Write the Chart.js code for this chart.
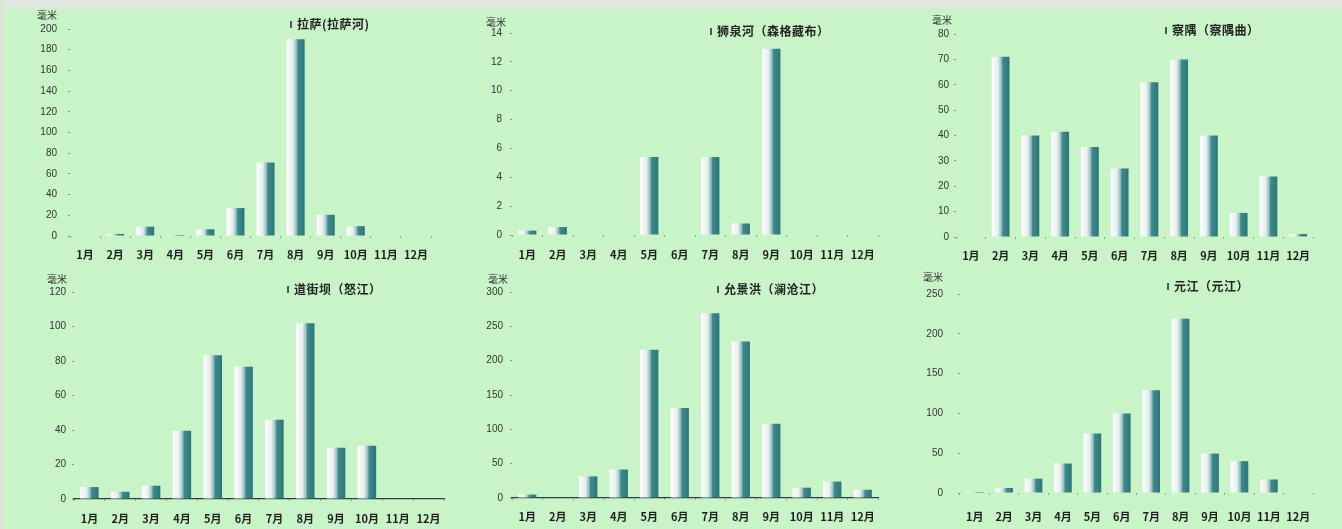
<!DOCTYPE html>
<html lang="zh">
<head>
    <meta charset="UTF-8">
    <title>各站月降水量</title>
    <script src="https://cdn.jsdelivr.net/npm/chart.js"></script>
    <style>
        body { margin: 0; width: 1342px; height: 529px; background: #c8f4c8; position: relative; overflow: hidden; font-family: "Noto Sans CJK SC", sans-serif; }
        .topband { position: absolute; left: 0; top: 0; width: 1342px; height: 8px; background: linear-gradient(#e4e6e4, #dfe8df); }
        .leftband { position: absolute; left: 0; top: 0; width: 4px; height: 529px; background: #d9e6d9; }
        .panel { position: absolute; }
        .unit { position: absolute; font-size: 10px; color: #333; line-height: 12px; }
        .legend { position: absolute; font-size: 12px; font-weight: 700; color: #222; letter-spacing: 0.5px; line-height: 14px; white-space: nowrap; }
        .legend i { display: inline-block; width: 2px; height: 7px; background: #4a5a5a; margin-right: 5px; vertical-align: 1px; }
    </style>
</head>
<body>
    <div class="topband"></div>
    <div class="leftband"></div>

    <script>
        const months = ['1月', '2月', '3月', '4月', '5月', '6月', '7月', '8月', '9月', '10月', '11月', '12月'];

        // monthly precipitation, mm
        const lasa = [0, 2, 9, 1, 6.5, 27, 71, 190, 20.5, 9.5, 0, 0];
        const shiquanhe = [0.3, 0.55, 0, 0, 5.4, 0, 5.4, 0.8, 12.9, 0, 0, 0];
        const chayu = [0, 71, 40, 41.5, 35.5, 27, 61, 70, 40, 9.5, 23.8, 1.2];
        const daojieba = [6.9, 4.2, 7.7, 39.6, 83.4, 76.6, 46, 101.9, 29.7, 30.9, 0, 0];
        const yunjinghong = [5, 0, 31.5, 41.5, 216, 131, 269, 228, 108, 15, 24, 12];
        const yuanjiang = [1.3, 6.3, 18, 37, 74.7, 100, 129, 219, 49.5, 40, 17, 0];

        const yMax = [200, 14, 80, 120, 300, 250];
        const yStep = [20, 2, 10, 20, 50, 50];

        const stations = ['拉萨(拉萨河)', '狮泉河（森格藏布）', '察隅（察隅曲）', '道街坝（怒江）', '允景洪（澜沧江）', '元江（元江）'];
        const series = [lasa, shiquanhe, chayu, daojieba, yunjinghong, yuanjiang];

        // plot box of each panel: left, right, top, bottom
        const boxes = [
            [70, 431, 29, 236],
            [512, 878, 33, 235],
            [956, 1313, 34, 237],
            [74, 444, 292, 499],
            [512, 878, 292, 498],
            [960, 1313, 294, 493]
        ];
        const yPad = [11, 8, 5, 6, 7, 15];
        const xPad = [10, 11, 10, 11, 10, 15];
        const solidAxis = [false, false, false, true, true, false];
        const unitPos = [[37, 9], [486, 16], [932, 14], [47, 273], [488, 273], [923, 271]];
        const legendPos = [[290, 17], [710, 24], [1165, 23], [287, 282], [717, 282], [1167, 279]];

        const AXW = 60;    // y axis width
        const XAXH = 34;   // x axis height
        const TOP = 24;    // room above the plot for the top tick label
        const RIGHT = 18;  // room right of the plot for the last month label

        // white-to-teal shading across each bar
        const barShade = {
            id: 'barShade',
            beforeDatasetsDraw(chart) {
                const c = chart.ctx;
                chart.getDatasetMeta(0).data.forEach(bar => {
                    const x0 = bar.x - bar.width / 2;
                    const g = c.createLinearGradient(x0, 0, x0 + bar.width, 0);
                    g.addColorStop(0, '#ffffff');
                    g.addColorStop(0.35, '#e6eeee');
                    g.addColorStop(0.55, '#8fb9ba');
                    g.addColorStop(0.62, '#3f8a8c');
                    g.addColorStop(1, '#2a7678');
                    bar.options.backgroundColor = g;
                });
            }
        };

        series.forEach((data, i) => {
            const [l, r, t, b] = boxes[i];
            const left = l - AXW;
            const top = t - TOP;
            const w = r + RIGHT - left;
            const h = b - top + XAXH;

            const wrap = document.createElement('div');
            wrap.className = 'panel';
            wrap.style.cssText = `left:${left}px;top:${top}px;width:${w}px;height:${h}px;`;
            const cv = document.createElement('canvas');
            wrap.appendChild(cv);
            document.body.appendChild(wrap);

            const unit = document.createElement('div');
            unit.className = 'unit';
            unit.style.left = unitPos[i][0] + 'px';
            unit.style.top = unitPos[i][1] + 'px';
            unit.textContent = '毫米';
            document.body.appendChild(unit);

            const lg = document.createElement('div');
            lg.className = 'legend';
            lg.style.left = legendPos[i][0] + 'px';
            lg.style.top = legendPos[i][1] + 'px';
            lg.innerHTML = '<i></i>' + stations[i];
            document.body.appendChild(lg);

            new Chart(cv, {
                type: 'bar',
                data: {
                    labels: months,
                    datasets: [{
                        label: stations[i],
                        data: data,
                        // scriptable so every bar gets its own options object
                        backgroundColor: () => '#5f9ea0',
                        barPercentage: 0.6,
                        categoryPercentage: 1
                    }]
                },
                options: {
                    responsive: true,
                    maintainAspectRatio: false,
                    animation: false,
                    events: [],
                    layout: { padding: { top: TOP, left: 0, right: RIGHT, bottom: 0 } },
                    plugins: { legend: { display: false }, tooltip: { enabled: false } },
                    scales: {
                        x: {
                            afterFit: s => { s.height = XAXH; },
                            border: { display: solidAxis[i], color: '#2d3d3d', width: 1.2 },
                            grid: { drawOnChartArea: false, tickLength: 2, color: '#8aa88a' },
                            ticks: {
                                padding: xPad[i],
                                color: '#1e1e1e',
                                maxRotation: 0,
                                autoSkip: false,
                                font: { family: '"Noto Sans CJK SC"', size: 11, weight: 'bold' }
                            }
                        },
                        y: {
                            min: 0,
                            max: yMax[i],
                            afterFit: s => { s.width = AXW; },
                            border: { display: false },
                            grid: { drawOnChartArea: false, tickLength: 2, color: '#8a9a8a' },
                            ticks: {
                                stepSize: yStep[i],
                                padding: yPad[i],
                                color: '#333',
                                font: { family: '"Liberation Sans"', size: 10 }
                            }
                        }
                    }
                },
                plugins: [barShade]
            });
        });
    </script>
</body>
</html>
